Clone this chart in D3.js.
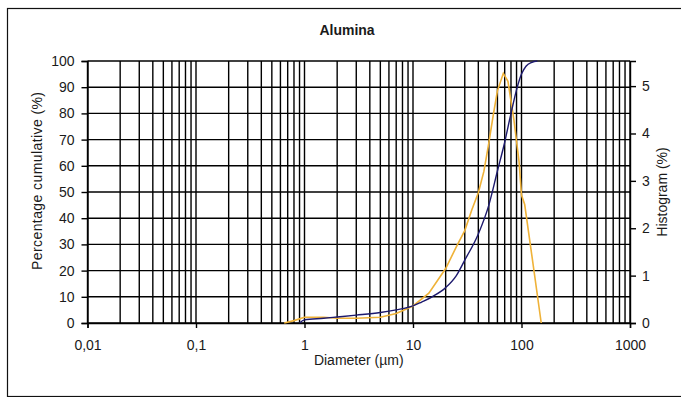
<!DOCTYPE html>
<html>
<head>
<meta charset="utf-8">
<script src="https://cdn.jsdelivr.net/npm/d3@7"></script>
<style>
    body { margin: 0; background: #fff; }
    text { font-family: "Liberation Sans", Arial, sans-serif; fill: #1a1a1a; }
</style>
</head>
<body>
<svg id="chart" width="681" height="397"></svg>
<script>
// Cumulative distribution (left axis, %)
const cumDiameter = [0.9, 1, 1.5, 2, 3, 5, 7, 10, 12, 15, 20, 25, 30, 40, 50, 60, 70, 80, 90, 100, 110, 125, 140];
const cumPercent  = [0, 1.2, 1.8, 2.3, 3, 4, 5, 6.5, 8, 10, 13.5, 18, 24, 34, 45, 58, 69, 80, 89, 95, 98, 99.5, 100];

// Histogram (right axis, %)
const histDiameter = [0.65, 0.8, 1, 1.5, 2, 3, 5, 7, 10, 14, 20, 25, 30, 35, 40, 45, 50, 55, 60, 68, 75, 85, 95, 100, 107, 125, 152];
const histPercent  = [0, 0.05, 0.12, 0.12, 0.1, 0.1, 0.12, 0.2, 0.36, 0.63, 1.15, 1.6, 1.95, 2.4, 2.75, 3.2, 3.8, 4.4, 4.9, 5.27, 5.1, 4.3, 3.4, 2.7, 2.5, 1.4, 0];

// Axis ticks
const xTicks = [0.01, 0.1, 1, 10, 100, 1000];
const xTickLabels = ["0,01", "0,1", "1", "10", "100", "1000"];
const yLeftTicks = [0, 10, 20, 30, 40, 50, 60, 70, 80, 90, 100];
const yRightTicks = [0, 1, 2, 3, 4, 5];

let svg = d3.select("#chart");

let margin = {top: 61, right: 51, bottom: 74, left: 87.5},
    width = 681 - margin.left - margin.right,
    height = 397 - margin.top - margin.bottom;

//Outer frame
svg.append("rect")
    .attr("x", 7.5)
    .attr("y", 8.5)
    .attr("width", 700)
    .attr("height", 388)
    .attr("fill", "none")
    .attr("stroke", "#111")
    .attr("stroke-width", 1.2);

let g = svg.append("g")
    .attr("transform", "translate(" + margin.left + "," + margin.top + ")");

let xScale = d3.scaleLog()
    .domain([0.01, 1000])
    .range([0, width]);

let yLeft = d3.scaleLinear()
    .domain([0, 100])
    .range([height, 0]);

let yRight = d3.scaleLinear()
    .domain([0, 5.53])
    .range([height, 0]);

//Grid: every 1..9 of each decade
let gridX = [];
d3.range(-2, 3).forEach((p) => {
    d3.range(1, 10).forEach((m) => { gridX.push(m * Math.pow(10, p)); });
});
gridX.push(1000);

g.append("g").selectAll("line")
    .data(gridX)
    .enter().append("line")
    .attr("x1", (d) => xScale(d))
    .attr("x2", (d) => xScale(d))
    .attr("y1", 0)
    .attr("y2", height)
    .attr("stroke", "#000")
    .attr("stroke-width", 1.4);

g.append("g").selectAll("line")
    .data(yLeftTicks)
    .enter().append("line")
    .attr("x1", 0)
    .attr("x2", width)
    .attr("y1", (d) => yLeft(d))
    .attr("y2", (d) => yLeft(d))
    .attr("stroke", "#000")
    .attr("stroke-width", 1.4);

//Axes
let xAxis = g.append("g")
    .attr("transform", "translate(0," + height + ")")
    .call(d3.axisBottom(xScale).tickValues(xTicks).tickSize(5).tickPadding(12)
        .tickFormat((d, i) => xTickLabels[i]));

let yAxisL = g.append("g")
    .call(d3.axisLeft(yLeft).tickValues(yLeftTicks).tickSize(6).tickPadding(7));

let yAxisR = g.append("g")
    .attr("transform", "translate(" + width + ",0)")
    .call(d3.axisRight(yRight).tickValues(yRightTicks).tickSize(6).tickPadding(6)
        .tickFormat(d3.format("d")));

[xAxis, yAxisL, yAxisR].forEach((a) => {
    a.select(".domain").attr("stroke", "#000").attr("stroke-width", 1.4);
    a.selectAll(".tick line").attr("stroke", "#000").attr("stroke-width", 1.4);
    a.selectAll("text").style("font-size", "14px").attr("fill", "#1a1a1a");
});

//Curves
let cumLine = d3.line()
    .x((d, i) => xScale(cumDiameter[i]))
    .y((d) => yLeft(d))
    .curve(d3.curveMonotoneX);

let histLine = d3.line()
    .x((d, i) => xScale(histDiameter[i]))
    .y((d) => yRight(d));

g.append("path")
    .datum(histPercent)
    .attr("d", histLine)
    .attr("fill", "none")
    .attr("stroke", "#efb238")
    .attr("stroke-width", 1.6);

g.append("path")
    .datum(cumPercent)
    .attr("d", cumLine)
    .attr("fill", "none")
    .attr("stroke", "#1d1a6e")
    .attr("stroke-width", 1.4);

//Labels
svg.append("text")
    .attr("x", 347)
    .attr("y", 35)
    .attr("text-anchor", "middle")
    .style("font-size", "14px")
    .style("font-weight", "bold")
    .text("Alumina");

svg.append("text")
    .attr("x", margin.left + width / 2)
    .attr("y", 365)
    .attr("text-anchor", "middle")
    .style("font-size", "14px")
    .text("Diameter (\u00b5m)");

svg.append("text")
    .attr("transform", "translate(42,181) rotate(-90)")
    .attr("text-anchor", "middle")
    .attr("textLength", 178)
    .style("font-size", "14px")
    .text("Percentage cumulative (%)");

svg.append("text")
    .attr("transform", "translate(667,192) rotate(-90)")
    .attr("text-anchor", "middle")
    .style("font-size", "14px")
    .text("Histogram (%)");
</script>
</body>
</html>
